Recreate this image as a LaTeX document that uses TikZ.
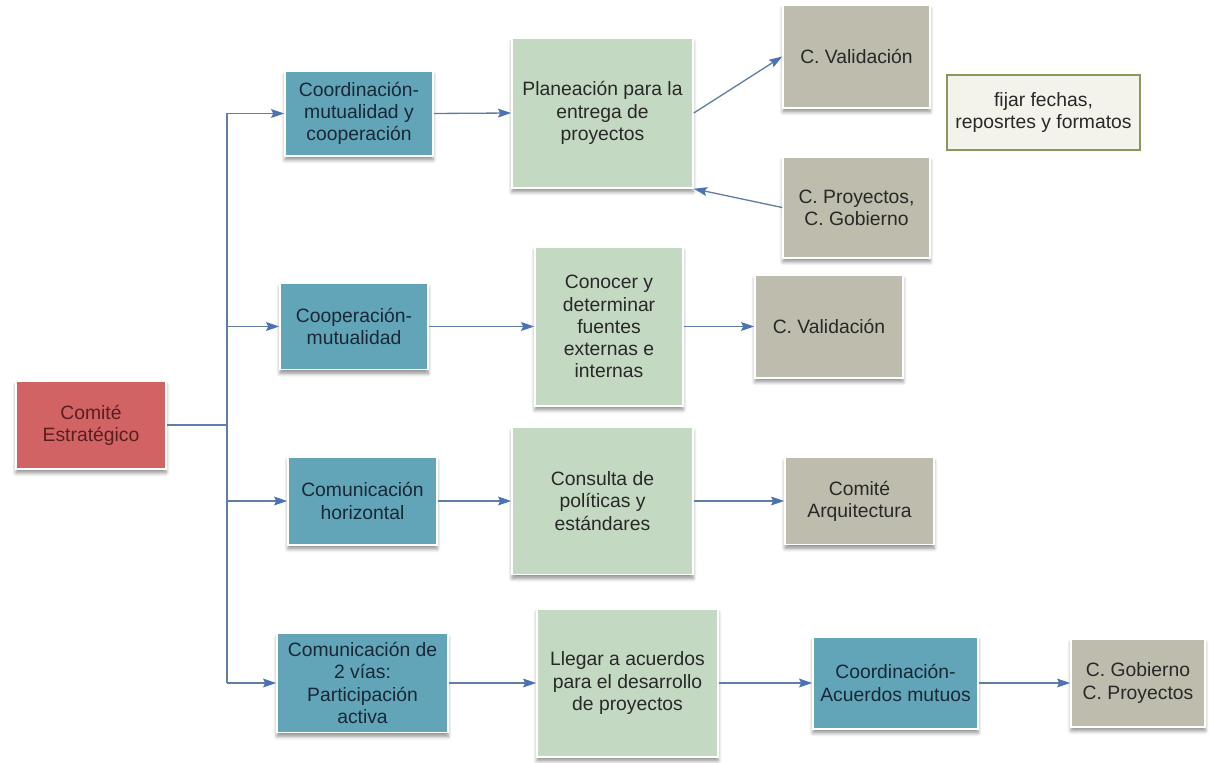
\documentclass[tikz,border=0pt]{standalone}
\usepackage{fontspec}
\setmainfont{Liberation Sans}
\usetikzlibrary{arrows.meta,shadows.blur}
\definecolor{redbox}{RGB}{209,99,101}
\definecolor{tealbox}{RGB}{98,165,184}
\definecolor{greenbox}{RGB}{196,217,193}
\definecolor{greybox}{RGB}{190,188,172}
\definecolor{notefill}{RGB}{243,243,236}
\definecolor{noteline}{RGB}{140,150,95}
\definecolor{linkcol}{RGB}{95,125,165}
\definecolor{tipcol}{RGB}{74,114,180}
\definecolor{redtext}{RGB}{90,30,30}
\definecolor{tealtext}{RGB}{25,40,55}
\definecolor{darktext}{RGB}{40,40,40}
\tikzset{
  box/.style={draw=white, line width=0.9pt, align=center, inner sep=2pt,
    font=\fontsize{11}{12.6}\selectfont,
    blur shadow={shadow xshift=0pt, shadow yshift=-2.2pt, shadow blur steps=6, shadow opacity=45}},
  redb/.style={box, fill=redbox, text=redtext},
  tealb/.style={box, fill=tealbox, text=tealtext},
  greenb/.style={box, fill=greenbox, text=darktext},
  greyb/.style={box, fill=greybox, text=darktext},
  noteb/.style={draw=noteline, line width=0.8pt, fill=notefill, text=darktext, align=center,
    font=\fontsize{11}{12.6}\selectfont},
  link/.style={draw=linkcol, line width=0.75pt},
  arr/.style={link, -{Stealth[length=7.5pt, width=5pt, inset=1.2pt, color=tipcol]}},
  sz/.style n args={2}{minimum width=#1*0.02cm, minimum height=#2*0.02cm}
}
\begin{document}
\begin{tikzpicture}[x=0.02cm, y=-0.02cm]
\useasboundingbox (0,0) rectangle (1209,763);

% root
\node[redb, sz={150}{88}] (est) at (91,425) {Comité\\Estratégico};

% first row
\node[tealb, sz={148}{85}] (co1) at (359,113.5) {Coordinación-\\mutualidad y\\cooperación};
\node[greenb, sz={181}{150}] (pl1) at (602.5,113) {Planeación para la\\entrega de\\proyectos};
\node[greyb, sz={147}{103}] (va1) at (856.5,56.5) {C. Validación};
\node[greyb, sz={147}{101}] (pg1) at (856.5,207.5) {C. Proyectos,\\C. Gobierno};
\node[noteb, minimum width=3.86cm, minimum height=1.5cm] (note) at (1043.5,112.5) {fijar fechas,\\reposrtes y formatos};

% second row
\node[tealb, sz={148}{86}] (co2) at (354,326.5) {Cooperación-\\mutualidad};
\node[greenb, sz={148}{159}] (cn2) at (609,326.5) {Conocer y\\determinar\\fuentes\\externas e\\internas};
\node[greyb, sz={148}{103}] (va2) at (829,326.5) {C. Validación};

% third row
\node[tealb, sz={149}{88}] (co3) at (362.5,501) {Comunicación\\horizontal};
\node[greenb, sz={181}{147}] (cs3) at (602.5,501) {Consulta de\\políticas y\\estándares};
\node[greyb, sz={149}{87}] (ar3) at (859.5,501) {Comité\\Arquitectura};

% fourth row
\node[tealb, sz={171}{99}] (co4) at (362.5,683) {Comunicación de\\2 vías:\\Participación\\activa};
\node[greenb, sz={181}{148}] (ll4) at (627.5,683) {Llegar a acuerdos\\para el desarrollo\\de proyectos};
\node[tealb, sz={165}{92}] (ac4) at (895.5,683) {Coordinación-\\Acuerdos mutuos};
\node[greyb, sz={134}{88}] (gp4) at (1138,683) {C. Gobierno\\C. Proyectos};

% trunk
\coordinate (tk) at (227,425);
\coordinate (tk1) at (227,113.5);
\coordinate (tk2) at (227,326.5);
\coordinate (tk3) at (227,501);
\coordinate (tk4) at (227,683);
\draw[link] (est.east) -- (tk);
\draw[link] (tk1) -- (tk4);
\draw[arr] (tk1) -- (co1.west);
\draw[arr] (tk2) -- (co2.west);
\draw[arr] (tk3) -- (co3.west);
\draw[arr] (tk4) -- (co4.west);

% row links
\draw[arr] (co1.east) -- (pl1.west);
\draw[arr] (pl1.east) -- (va1.west);
\draw[arr] (pg1.west) -- (pl1.south east);
\draw[arr] (co2.east) -- (cn2.west);
\draw[arr] (cn2.east) -- (va2.west);
\draw[arr] (co3.east) -- (cs3.west);
\draw[arr] (cs3.east) -- (ar3.west);
\draw[arr] (co4.east) -- (ll4.west);
\draw[arr] (ll4.east) -- (ac4.west);
\draw[arr] (ac4.east) -- (gp4.west);
\end{tikzpicture}
\end{document}
